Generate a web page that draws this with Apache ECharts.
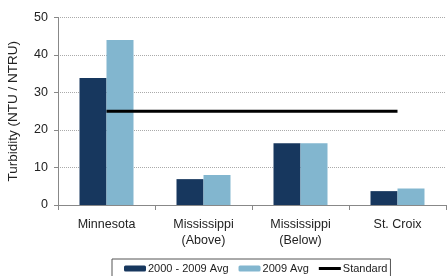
<!DOCTYPE html>
<html>
<head>
<meta charset="utf-8">
<script src="https://cdn.jsdelivr.net/npm/echarts@6/dist/echarts.min.js"></script>
<style>
  html, body { margin: 0; padding: 0; background: #fff; }
  #chart { width: 447px; height: 276px; }
</style>
</head>
<body>
<div id="chart"></div>
<script>
  // categories and values
  var sites = ['Minnesota', 'Mississippi\n(Above)', 'Mississippi\n(Below)', 'St. Croix'];
  var avg0009 = [33.9, 6.9, 16.5, 3.7];
  var avg2009 = [44.0, 8.0, 16.5, 4.4];
  var standard = [25, 25, 25, 25];
  var yTicks = [0, 10, 20, 30, 40, 50];

  var darkColor = '#17375e';
  var lightColor = '#82b6cf';
  var font = 'Liberation Sans, Arial, sans-serif';

  var myChart = echarts.init(document.getElementById('chart'));
  myChart.setOption({
    animation: false,
    backgroundColor: '#fff',
    textStyle: { fontFamily: font },
    grid: { left: 58, right: 1, top: 17.5, bottom: 71, outerBoundsMode: 'none' },
    legend: {
      left: 112,
      top: 259,
      padding: [4, 3, 10, 12],
      borderColor: '#555',
      borderWidth: 1,
      itemWidth: 22,
      itemHeight: 6,
      itemGap: 10,
      textStyle: { fontSize: 11, color: '#222', fontFamily: font, padding: [0, 0, 0, -3] },
      data: [
        '2000 - 2009 Avg',
        '2009 Avg',
        { name: 'Standard', icon: 'path://M0,0L22,0L22,3L0,3Z' }
      ]
    },
    xAxis: {
      type: 'category',
      data: sites,
      axisLine: { lineStyle: { color: '#888' } },
      axisTick: { show: true, length: 5, lineStyle: { color: '#888' } },
      axisLabel: { fontSize: 12.5, color: '#222', margin: 12, lineHeight: 16 }
    },
    yAxis: {
      type: 'value',
      min: 0,
      max: 50,
      interval: 10,
      name: 'Turbidity (NTU / NTRU)',
      nameLocation: 'middle',
      nameGap: 38,
      nameTextStyle: { fontSize: 13.5, color: '#222' },
      axisLine: { show: true, lineStyle: { color: '#888' } },
      axisTick: { show: true, length: 4, lineStyle: { color: '#888' } },
      axisLabel: {
        fontSize: 12.5,
        color: '#222',
        margin: 10,
        formatter: function (v) { return yTicks.indexOf(v) >= 0 ? String(v) : ''; }
      },
      splitLine: { lineStyle: { color: '#aaa', type: [1, 1] } }
    },
    series: [
      {
        name: '2000 - 2009 Avg',
        type: 'bar',
        data: avg0009,
        barWidth: 27,
        barGap: 0,
        itemStyle: { color: darkColor }
      },
      {
        name: '2009 Avg',
        type: 'bar',
        data: avg2009,
        barWidth: 27,
        itemStyle: { color: lightColor }
      },
      {
        name: 'Standard',
        type: 'line',
        data: standard,
        symbol: 'none',
        lineStyle: { color: '#000', width: 3 },
        itemStyle: { color: '#000' },
        z: 5
      }
    ]
  });
</script>
</body>
</html>
